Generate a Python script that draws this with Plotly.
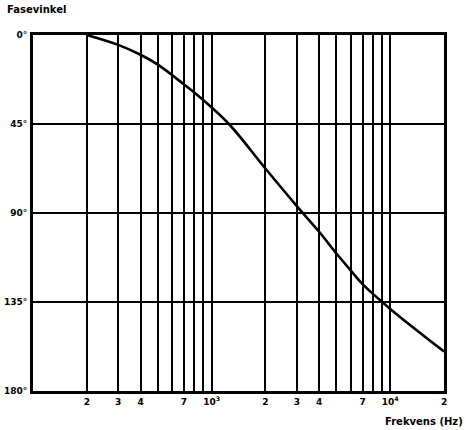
import plotly.graph_objects as go

# Phase response: frequency (Hz) vs phase angle (degrees)
freq_hz = [200, 300, 400, 500, 700, 900, 1250, 2000, 3000, 4000, 5000, 6000, 7000, 10000, 20000]
phase_deg = [0, 5, 10, 15, 25, 33, 45, 67.5, 86.5, 99.5, 110.5, 119, 126, 138.5, 160]

# Labelled grid lines along the frequency axis
label_freqs = [200, 300, 400, 700, 1000, 2000, 3000, 4000, 7000, 10000, 20000]
label_texts = ["2", "3", "4", "7", "10<sup>3</sup>", "2", "3", "4", "7", "10<sup>4</sup>", "2"]
# Unlabelled grid lines
plain_freqs = [500, 600, 800, 900, 5000, 6000, 8000, 9000]

phase_ticks = [0, 45, 90, 135, 180]
phase_labels = ["0°", "45°", "90°", "135°", "180°"]

font = dict(family="DejaVu Sans, Arial, sans-serif", size=10, color="black", weight="bold")

fig = go.Figure()
fig.add_trace(go.Scatter(
    x=freq_hz, y=phase_deg, mode="lines",
    line=dict(color="black", width=2.6, shape="spline", smoothing=1.0),
    hoverinfo="skip", showlegend=False,
))

fig.update_layout(
    width=466, height=430,
    margin=dict(l=33, r=22, t=35, b=39),
    paper_bgcolor="white", plot_bgcolor="white",
    font=font,
    xaxis=dict(
        type="log", range=[2, 4.30103], automargin=False,
        tickmode="array", tickvals=label_freqs, ticktext=label_texts,
        showgrid=True, gridcolor="black", gridwidth=1.8,
        minor=dict(tickmode="array", tickvals=plain_freqs, showgrid=True,
                   gridcolor="black", gridwidth=1.8, ticks=""),
        showline=True, linecolor="black", linewidth=3, mirror=True,
        ticks="", zeroline=False, tickangle=0,
        tickfont=dict(font, size=9),
    ),
    yaxis=dict(
        range=[180, 0], automargin=False,
        tickmode="array", tickvals=phase_ticks, ticktext=phase_labels,
        showgrid=True, gridcolor="black", gridwidth=1.6,
        showline=True, linecolor="black", linewidth=3, mirror=True,
        ticks="", zeroline=False, ticklabelstandoff=1,
        tickfont=dict(font, size=9),
    ),
    annotations=[
        dict(text="Fasevinkel", xref="paper", yref="paper",
             x=-0.069, y=1.072, xanchor="left", yanchor="middle",
             showarrow=False, font=dict(font, size=10)),
        dict(text="Frekvens (Hz)", xref="paper", yref="paper",
             x=1.052, y=-0.087, xanchor="right", yanchor="middle",
             showarrow=False, font=dict(font, size=10)),
    ],
)

fig.write_html("out.html")
